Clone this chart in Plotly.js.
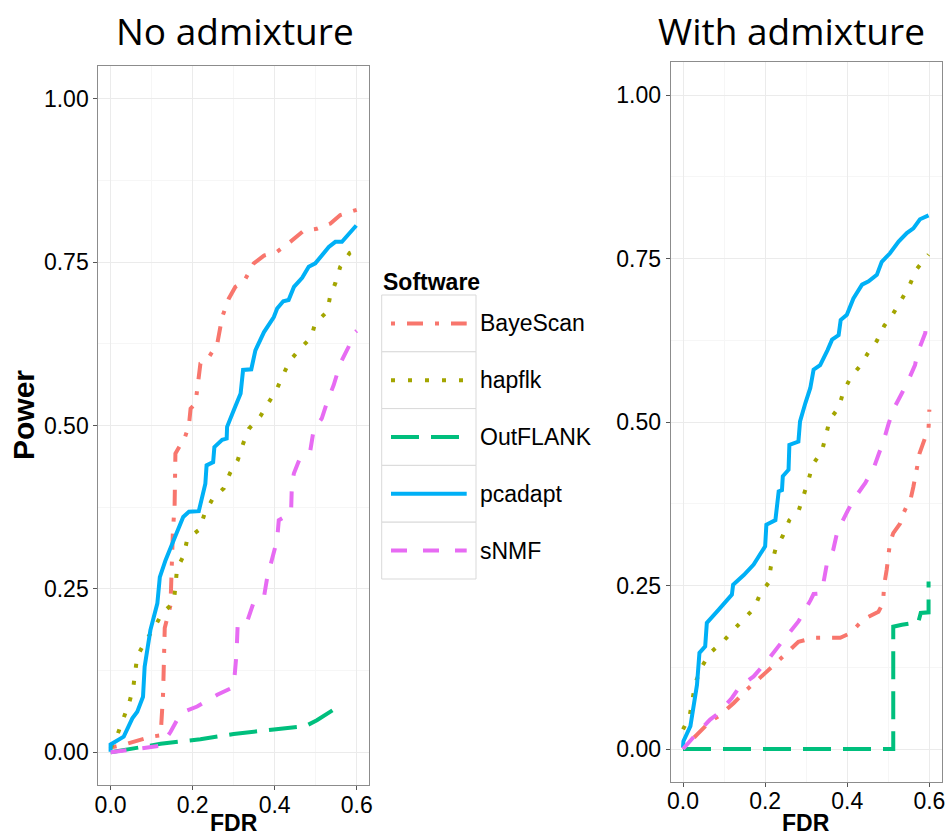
<!DOCTYPE html>
<html>
<head>
<meta charset="utf-8">
<script src="https://cdn.plot.ly/plotly-3.0.1.min.js"></script>
<style>html,body{margin:0;padding:0;background:#fff;}#chart{width:951px;height:835px;}</style>
</head>
<body>
<div id="chart"></div>
<script>
// ---------- DATA ----------
const software = ["BayeScan", "hapflk", "OutFLANK", "pcadapt", "sNMF"];
const panelTitles = ["No admixture", "With admixture"];
const xTitle = "FDR";
const yTitle = "Power";
const legendTitle = "Software";
const xTickLabels = ["0.0", "0.2", "0.4", "0.6"];
const yTickLabels = ["0.00", "0.25", "0.50", "0.75", "1.00"];

// No admixture
const noAdm_BayeScan_fdr   = [0.005, 0.028, 0.100, 0.122, 0.128, 0.132, 0.146, 0.152, 0.156, 0.158, 0.168, 0.179, 0.191, 0.195, 0.207, 0.219, 0.240, 0.260, 0.272, 0.288, 0.304, 0.325, 0.349, 0.374, 0.406, 0.438, 0.471, 0.503, 0.536, 0.560, 0.585, 0.600];
const noAdm_BayeScan_power = [0.008, 0.011, 0.024, 0.026, 0.090, 0.190, 0.225, 0.340, 0.376, 0.457, 0.468, 0.478, 0.500, 0.526, 0.534, 0.595, 0.605, 0.625, 0.666, 0.694, 0.712, 0.720, 0.748, 0.760, 0.766, 0.781, 0.798, 0.801, 0.809, 0.822, 0.827, 0.830];

const noAdm_hapflk_fdr   = [0, 0.016, 0.045, 0.055, 0.065, 0.085, 0.106, 0.126, 0.154, 0.158, 0.162, 0.179, 0.187, 0.217, 0.229, 0.248, 0.276, 0.291, 0.310, 0.323, 0.337, 0.365, 0.386, 0.404, 0.421, 0.437, 0.463, 0.489, 0.499, 0.528, 0.535, 0.548, 0.560, 0.583, 0.598];
const noAdm_hapflk_power = [0.006, 0.026, 0.075, 0.098, 0.147, 0.170, 0.190, 0.213, 0.229, 0.254, 0.281, 0.302, 0.327, 0.341, 0.365, 0.387, 0.404, 0.427, 0.447, 0.472, 0.495, 0.514, 0.536, 0.554, 0.578, 0.599, 0.618, 0.635, 0.657, 0.674, 0.697, 0.718, 0.743, 0.764, 0.768];

const noAdm_OutFLANK_fdr   = [0, 0.122, 0.219, 0.300, 0.398, 0.475, 0.503, 0.560];
const noAdm_OutFLANK_power = [0, 0.013, 0.020, 0.028, 0.035, 0.040, 0.049, 0.072];

const noAdm_pcadapt_fdr   = [0, 0, 0.032, 0.053, 0.065, 0.079, 0.083, 0.097, 0.114, 0.120, 0.134, 0.154, 0.177, 0.191, 0.215, 0.231, 0.234, 0.250, 0.253, 0.272, 0.283, 0.284, 0.300, 0.317, 0.323, 0.343, 0.353, 0.374, 0.398, 0.406, 0.421, 0.434, 0.447, 0.467, 0.483, 0.499, 0.532, 0.548, 0.564, 0.599];
const noAdm_pcadapt_power = [0.001, 0.012, 0.024, 0.052, 0.062, 0.085, 0.131, 0.187, 0.228, 0.268, 0.294, 0.325, 0.360, 0.368, 0.369, 0.411, 0.439, 0.444, 0.467, 0.478, 0.480, 0.498, 0.523, 0.549, 0.585, 0.586, 0.615, 0.643, 0.666, 0.679, 0.690, 0.692, 0.712, 0.726, 0.743, 0.748, 0.773, 0.781, 0.781, 0.806];

const noAdm_sNMF_fdr   = [0, 0.122, 0.146, 0.171, 0.211, 0.260, 0.300, 0.307, 0.310, 0.333, 0.349, 0.374, 0.382, 0.406, 0.410, 0.440, 0.442, 0.447, 0.463, 0.487, 0.495, 0.515, 0.528, 0.544, 0.560, 0.580, 0.593, 0.600];
const noAdm_sNMF_power = [0, 0.010, 0.031, 0.060, 0.070, 0.088, 0.100, 0.151, 0.198, 0.200, 0.230, 0.238, 0.268, 0.325, 0.355, 0.366, 0.411, 0.427, 0.452, 0.462, 0.493, 0.511, 0.536, 0.562, 0.595, 0.620, 0.641, 0.645];

// With admixture
const withAdm_BayeScan_fdr   = [0, 0.034, 0.066, 0.091, 0.123, 0.156, 0.200, 0.253, 0.281, 0.318, 0.383, 0.407, 0.439, 0.476, 0.487, 0.490, 0.496, 0.504, 0.512, 0.529, 0.537, 0.555, 0.561, 0.569, 0.576, 0.588, 0.598, 0.600];
const withAdm_BayeScan_power = [0, 0.022, 0.042, 0.052, 0.070, 0.091, 0.116, 0.147, 0.164, 0.170, 0.170, 0.177, 0.198, 0.210, 0.223, 0.251, 0.274, 0.315, 0.330, 0.345, 0.361, 0.384, 0.401, 0.427, 0.452, 0.473, 0.491, 0.519];

const withAdm_hapflk_fdr   = [0, 0.016, 0.030, 0.046, 0.066, 0.097, 0.123, 0.147, 0.173, 0.188, 0.208, 0.214, 0.225, 0.243, 0.259, 0.281, 0.306, 0.316, 0.338, 0.348, 0.357, 0.379, 0.391, 0.409, 0.433, 0.450, 0.472, 0.490, 0.512, 0.533, 0.551, 0.568, 0.590, 0.598];
const withAdm_hapflk_power = [0.030, 0.050, 0.101, 0.126, 0.147, 0.164, 0.182, 0.198, 0.215, 0.237, 0.254, 0.279, 0.305, 0.326, 0.350, 0.363, 0.412, 0.435, 0.455, 0.479, 0.503, 0.522, 0.547, 0.569, 0.587, 0.605, 0.624, 0.647, 0.666, 0.688, 0.708, 0.733, 0.750, 0.756];

const withAdm_OutFLANK_fdr   = [0, 0.512, 0.512, 0.533, 0.573, 0.579, 0.598, 0.598];
const withAdm_OutFLANK_power = [0, 0, 0.187, 0.190, 0.194, 0.208, 0.209, 0.256];

const withAdm_pcadapt_fdr   = [0, 0.001, 0.018, 0.034, 0.040, 0.054, 0.058, 0.087, 0.119, 0.122, 0.148, 0.172, 0.200, 0.203, 0.225, 0.233, 0.241, 0.243, 0.257, 0.259, 0.281, 0.285, 0.298, 0.310, 0.318, 0.334, 0.352, 0.363, 0.379, 0.384, 0.399, 0.415, 0.436, 0.452, 0.472, 0.484, 0.504, 0.525, 0.545, 0.561, 0.577, 0.598];
const withAdm_pcadapt_power = [0.002, 0.012, 0.035, 0.098, 0.147, 0.157, 0.193, 0.213, 0.236, 0.251, 0.266, 0.282, 0.310, 0.343, 0.350, 0.394, 0.396, 0.417, 0.427, 0.465, 0.470, 0.501, 0.529, 0.552, 0.580, 0.587, 0.610, 0.626, 0.633, 0.656, 0.664, 0.689, 0.710, 0.715, 0.725, 0.745, 0.758, 0.776, 0.789, 0.796, 0.810, 0.816];

const withAdm_sNMF_fdr   = [0, 0.034, 0.066, 0.087, 0.119, 0.139, 0.172, 0.204, 0.241, 0.281, 0.311, 0.318, 0.336, 0.342, 0.350, 0.366, 0.376, 0.400, 0.415, 0.444, 0.464, 0.476, 0.488, 0.500, 0.512, 0.533, 0.549, 0.565, 0.571, 0.577, 0.590, 0.592, 0.598];
const withAdm_sNMF_power = [0, 0.024, 0.045, 0.055, 0.078, 0.096, 0.111, 0.134, 0.164, 0.195, 0.228, 0.237, 0.238, 0.254, 0.282, 0.305, 0.333, 0.363, 0.381, 0.407, 0.429, 0.450, 0.470, 0.496, 0.519, 0.544, 0.564, 0.587, 0.605, 0.615, 0.636, 0.651, 0.659];

// ---------- STYLE ----------
const colors = {BayeScan: "#F8766D", hapflk: "#A3A500", OutFLANK: "#00BF7D", pcadapt: "#00B0F6", sNMF: "#E76BF3"};
const dashes = {BayeScan: "4px,12px,16px,12px", hapflk: "4px,13px", OutFLANK: "28px,12px", pcadapt: "solid", sNMF: "16px,16px"};
const LW = 4;

const panels = [
  {fdr: {BayeScan: noAdm_BayeScan_fdr, hapflk: noAdm_hapflk_fdr, OutFLANK: noAdm_OutFLANK_fdr, pcadapt: noAdm_pcadapt_fdr, sNMF: noAdm_sNMF_fdr},
   power: {BayeScan: noAdm_BayeScan_power, hapflk: noAdm_hapflk_power, OutFLANK: noAdm_OutFLANK_power, pcadapt: noAdm_pcadapt_power, sNMF: noAdm_sNMF_power},
   xa: "x", ya: "y"},
  {fdr: {BayeScan: withAdm_BayeScan_fdr, hapflk: withAdm_hapflk_fdr, OutFLANK: withAdm_OutFLANK_fdr, pcadapt: withAdm_pcadapt_fdr, sNMF: withAdm_sNMF_fdr},
   power: {BayeScan: withAdm_BayeScan_power, hapflk: withAdm_hapflk_power, OutFLANK: withAdm_OutFLANK_power, pcadapt: withAdm_pcadapt_power, sNMF: withAdm_sNMF_power},
   xa: "x2", ya: "y2"}
];

const traces = [];
panels.forEach((p) => {
  software.forEach((s) => {
    traces.push({
      type: "scatter", mode: "lines", name: s,
      x: p.fdr[s], y: p.power[s], xaxis: p.xa, yaxis: p.ya,
      line: {color: colors[s], width: LW, dash: dashes[s], simplify: false},
      showlegend: false, hoverinfo: "x+y+name"
    });
  });
});

// ---------- LAYOUT (pixel helpers) ----------
const W = 951, H = 835;
const fx = (v) => v / W;
const fy = (v) => 1 - v / H;
const FONT = "Liberation Sans, Arial, Helvetica, sans-serif";

function xAxis(domain, anchor) {
  return {
    domain: domain, anchor: anchor, range: [-0.03, 0.63],
    tickmode: "array", tickvals: [0, 0.2, 0.4, 0.6], ticktext: xTickLabels,
    showgrid: true, gridcolor: "#EBEBEB", gridwidth: 1,
    minor: {tickmode: "array", tickvals: [0.1, 0.3, 0.5], showgrid: true, gridcolor: "#F6F6F6", gridwidth: 1, ticks: ""},
    zeroline: false, showline: true, mirror: true, linecolor: "#8C8C8C", linewidth: 1,
    ticks: "outside", ticklen: 4, tickcolor: "#555", tickwidth: 1,
    ticklabelstandoff: -5,
    tickfont: {family: FONT, size: 23, color: "#000"},
    automargin: false
  };
}
function yAxis(domain, anchor) {
  return {
    domain: domain, anchor: anchor, range: [-0.05, 1.05],
    tickmode: "array", tickvals: [0, 0.25, 0.5, 0.75, 1], ticktext: yTickLabels,
    showgrid: true, gridcolor: "#EBEBEB", gridwidth: 1,
    minor: {tickmode: "array", tickvals: [0.125, 0.375, 0.625, 0.875], showgrid: true, gridcolor: "#F6F6F6", gridwidth: 1, ticks: ""},
    zeroline: false, showline: true, mirror: true, linecolor: "#8C8C8C", linewidth: 1,
    ticks: "outside", ticklen: 4, tickcolor: "#555", tickwidth: 1,
    tickfont: {family: FONT, size: 23, color: "#000"},
    automargin: false
  };
}

// Legend (ggplot-style key boxes), drawn as shapes + text
const legTop = 295, rowH = 56.8, boxL = 381.7, boxR = 476, lineL = 391, lineR = 466.7;
const shapes = [];
const annotations = [];
software.forEach((s, i) => {
  const t = legTop + i * rowH, b = t + rowH, c = t + rowH / 2;
  shapes.push({type: "rect", xref: "paper", yref: "paper", x0: fx(boxL), x1: fx(boxR), y0: fy(b), y1: fy(t),
    line: {color: "#D9D9D9", width: 1}, fillcolor: "#FFFFFF", layer: "above"});
  shapes.push({type: "line", xref: "paper", yref: "paper", x0: fx(lineL), x1: fx(lineR), y0: fy(c), y1: fy(c),
    line: {color: colors[s], width: LW, dash: dashes[s]}, layer: "above"});
  annotations.push({xref: "paper", yref: "paper", x: fx(478), y: fy(c), xanchor: "left", yanchor: "middle",
    text: s, showarrow: false, font: {family: FONT, size: 23, color: "#000"}});
});
annotations.push({xref: "paper", yref: "paper", x: fx(381), y: fy(282), xanchor: "left", yanchor: "middle",
  text: "<b>" + legendTitle + "</b>", showarrow: false, font: {family: FONT, size: 23, color: "#000"}});

// Panel titles
annotations.push({xref: "paper", yref: "paper", x: fx(235), y: fy(31), xanchor: "center", yanchor: "middle",
  text: panelTitles[0], showarrow: false, font: {family: "Open Sans, sans-serif", size: 37, color: "#000"}});
annotations.push({xref: "paper", yref: "paper", x: fx(791), y: fy(31), xanchor: "center", yanchor: "middle",
  text: panelTitles[1], showarrow: false, font: {family: "Open Sans, sans-serif", size: 37, color: "#000"}});

// Axis titles
annotations.push({xref: "paper", yref: "paper", x: fx(233.6), y: fy(823), xanchor: "center", yanchor: "middle",
  text: "<b>" + xTitle + "</b>", showarrow: false, font: {family: FONT, size: 23, color: "#000"}});
annotations.push({xref: "paper", yref: "paper", x: fx(806.2), y: fy(823), xanchor: "center", yanchor: "middle",
  text: "<b>" + xTitle + "</b>", showarrow: false, font: {family: FONT, size: 23, color: "#000"}});
annotations.push({xref: "paper", yref: "paper", x: fx(23), y: fy(415), xanchor: "center", yanchor: "middle",
  text: "<b>" + yTitle + "</b>", textangle: -90, showarrow: false, font: {family: FONT, size: 30, color: "#000"}});

const layout = {
  width: W, height: H,
  margin: {l: 0, r: 0, t: 0, b: 0},
  paper_bgcolor: "#FFFFFF", plot_bgcolor: "#FFFFFF",
  showlegend: false,
  xaxis: xAxis([fx(98.3), fx(369)], "y"),
  yaxis: yAxis([fy(785), fy(66)], "x"),
  xaxis2: xAxis([fx(670.7), fx(941.7)], "y2"),
  yaxis2: yAxis([fy(781.7), fy(62.3)], "x2"),
  shapes: shapes,
  annotations: annotations
};

Plotly.newPlot("chart", traces, layout, {displayModeBar: false, staticPlot: true});
</script>
</body>
</html>
